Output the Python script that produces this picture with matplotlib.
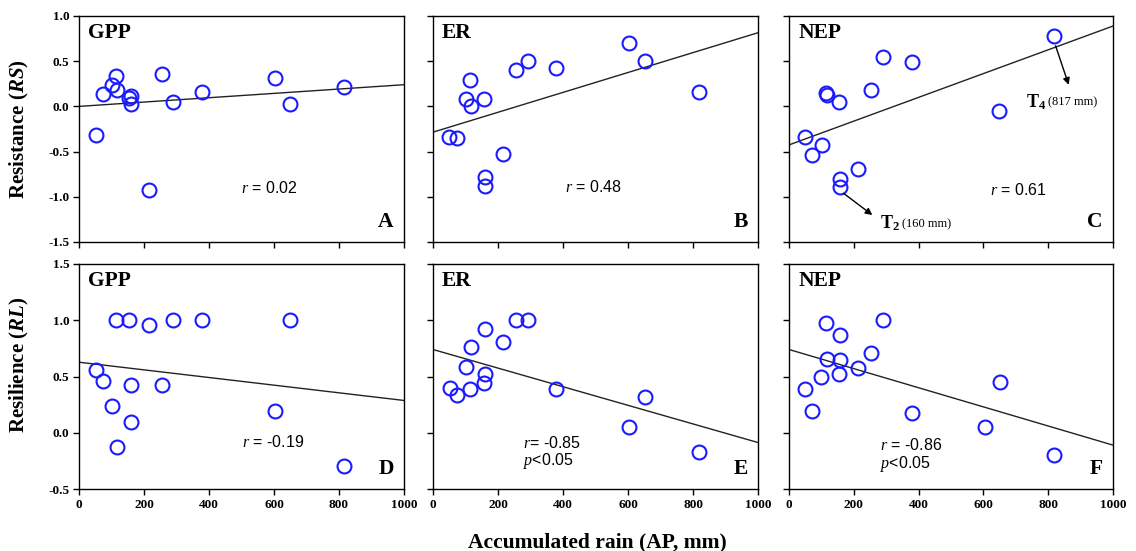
import matplotlib
matplotlib.use("Agg")
import matplotlib.pyplot as plt

plt.rcParams['axes.unicode_minus'] = False
plt.rcParams['mathtext.fontset'] = 'custom'
plt.rcParams['mathtext.it'] = 'Liberation Serif:italic'
plt.rcParams['mathtext.rm'] = 'Liberation Sans'
plt.rcParams['mathtext.bf'] = 'Liberation Serif:bold'
plt.rcParams['mathtext.bfit'] = 'Liberation Serif:italic:bold'

# ---------------- data ----------------
fluxes = ["GPP", "ER", "NEP"]
panel_letters = [["A", "B", "C"], ["D", "E", "F"]]

# Resistance (RS)
gpp_rs_x = [51, 73, 100, 114, 118, 155, 159, 160, 215, 255, 290, 378, 604, 649, 815]
gpp_rs_y = [-0.315, 0.137, 0.24, 0.34, 0.18, 0.09, 0.11, 0.026, -0.926, 0.36, 0.048, 0.16, 0.31, 0.026, 0.21]
er_rs_x = [49, 75, 103, 113, 118, 156, 161, 161, 214, 255, 292, 379, 604, 652, 817]
er_rs_y = [-0.344, -0.352, 0.085, 0.296, 0.0, 0.081, -0.785, -0.878, -0.522, 0.407, 0.507, 0.426, 0.70, 0.507, 0.159]
nep_rs_x = [48, 72, 102, 113, 116, 155, 156, 156, 213, 254, 291, 380, 648, 817]
nep_rs_y = [-0.344, -0.537, -0.43, 0.148, 0.13, 0.052, -0.807, -0.889, -0.689, 0.178, 0.544, 0.489, -0.048, 0.778]

# Resilience (RL)
gpp_rl_x = [51, 73, 102, 114, 116, 155, 159, 159, 214, 255, 290, 378, 604, 649, 815]
gpp_rl_y = [0.56, 0.46, 0.236, 1.0, -0.128, 1.0, 0.424, 0.10, 0.955, 0.424, 1.0, 1.0, 0.197, 1.0, -0.295]
er_rl_x = [51, 75, 103, 115, 118, 157, 161, 161, 214, 256, 292, 379, 604, 652, 817]
er_rl_y = [0.40, 0.34, 0.585, 0.385, 0.758, 0.442, 0.525, 0.919, 0.803, 1.0, 1.0, 0.39, 0.048, 0.32, -0.167]
nep_rl_x = [50, 72, 100, 113, 117, 154, 156, 158, 213, 254, 291, 380, 606, 650, 817]
nep_rl_y = [0.388, 0.194, 0.50, 0.973, 0.66, 0.52, 0.872, 0.65, 0.573, 0.707, 1.0, 0.176, 0.048, 0.448, -0.197]

# regression lines (intercept, slope)
rs_intercepts = [0.0, -0.285, -0.426]
rs_slopes = [0.00024, 0.0011, 0.001315]
rl_intercepts = [0.627, 0.74, 0.74]
rl_slopes = [-0.00034, -0.000827, -0.00085]

rs_r_text = ["0.02", "0.48", "0.61"]
rl_r_text = ["-0.19", "-0.85", "-0.86"]
rl_p_text = ["", "<0.05", "<0.05"]

x_ticks = [0, 200, 400, 600, 800, 1000]
rs_ticks = [-1.5, -1.0, -0.5, 0.0, 0.5, 1.0]
rl_ticks = [-0.5, 0.0, 0.5, 1.0, 1.5]

# ---------------- figure ----------------
W, H = 1136, 551
fig = plt.figure(figsize=(W / 100, H / 100), dpi=100)

col_px = [(79, 404), (433, 758), (789, 1113)]
row_px = [(16, 242), (264, 489)]

serif = "Liberation Serif"
sans = "Liberation Sans"

rows = [
    dict(xs=[gpp_rs_x, er_rs_x, nep_rs_x], ys=[gpp_rs_y, er_rs_y, nep_rs_y],
         b=rs_intercepts, m=rs_slopes, ylim=(-1.5, 1.0), yt=rs_ticks,
         ylabel=r"Resistance ($\mathbfit{RS}$)", rt=rs_r_text, pt=["", "", ""], ly=0.5),
    dict(xs=[gpp_rl_x, er_rl_x, nep_rl_x], ys=[gpp_rl_y, er_rl_y, nep_rl_y],
         b=rl_intercepts, m=rl_slopes, ylim=(-0.5, 1.5), yt=rl_ticks,
         ylabel=r"Resilience ($\mathbfit{RL}$)", rt=rl_r_text, pt=rl_p_text, ly=0.55),
]

# positions of r text in data coords
r_pos = [[(500, -0.90), (406, -0.89), (620, -0.93)],
         [(502, -0.08), (277, -0.09), (281, -0.11)]]

axes = {}
for ri, row in enumerate(rows):
    for ci in range(3):
        l, r = col_px[ci]
        t, b = row_px[ri]
        ax = fig.add_axes([l / W, (H - b) / H, (r - l) / W, (b - t) / H])
        axes[(ri, ci)] = ax
        ax.plot(row["xs"][ci], row["ys"][ci], linestyle="none", marker="o",
                markersize=10, markerfacecolor="none", markeredgecolor="#1a1aff",
                markeredgewidth=1.5, zorder=3)
        x0, x1 = 0, 1000
        ax.plot([x0, x1], [row["b"][ci] + row["m"][ci] * x0, row["b"][ci] + row["m"][ci] * x1],
                color="#222222", lw=1.0, zorder=2)
        ax.set_xlim(0, 1000)
        ax.set_ylim(*row["ylim"])
        ax.set_xticks(x_ticks)
        ax.set_yticks(row["yt"])
        ax.tick_params(direction="out", length=4, width=1, pad=3)
        for s in ax.spines.values():
            s.set_linewidth(1.0)
        if ri == 0:
            ax.set_xticklabels([])
        else:
            ax.set_xticklabels([str(v) for v in x_ticks], fontfamily=serif,
                               fontweight="bold", fontsize=9.5)
        if ci == 0:
            ax.set_yticklabels([f"{v:.1f}" for v in row["yt"]], fontfamily=serif,
                               fontweight="bold", fontsize=9.5)
            ax.set_ylabel(row["ylabel"], fontfamily=serif, fontweight="bold", fontsize=15)
            ax.yaxis.set_label_coords(-0.148, row["ly"])
        else:
            ax.set_yticklabels([])
        ax.text(0.028, 0.925, fluxes[ci], transform=ax.transAxes, fontfamily=serif,
                fontweight="bold", fontsize=15.5, ha="left", va="center")
        ax.text(0.968, 0.088, panel_letters[ri][ci], transform=ax.transAxes,
                fontfamily=serif, fontweight="bold", fontsize=15.5, ha="right", va="center")
        rx, ry = r_pos[ri][ci]
        sep = " = " if not (ri == 1 and ci == 1) else "= "
        ax.text(rx, ry, "$r$" + sep + row["rt"][ci], fontfamily=sans, fontsize=11.5,
                ha="left", va="center")
        if row["pt"][ci]:
            dy = 0.165
            ax.text(rx, ry - dy, "$p$" + row["pt"][ci], fontfamily=sans, fontsize=11.5,
                    ha="left", va="center")

# annotations in panel C
axc = axes[(0, 2)]
axc.annotate("", xy=(866, 0.21), xytext=(820, 0.70),
             arrowprops=dict(arrowstyle="-|>", color="black", lw=1.0, mutation_scale=10))
t4 = axc.text(733, 0.05, r"$\mathbf{T}_{\mathbf{4}}$", fontsize=13, ha="left", va="center")
axc.annotate("(817 mm)", xy=(1, 0.15), xycoords=t4, xytext=(1, 0), textcoords="offset points",
             fontfamily=serif, fontsize=9, ha="left", va="bottom")
axc.annotate("", xy=(264, -1.22), xytext=(162, -0.944),
             arrowprops=dict(arrowstyle="-|>", color="black", lw=1.0, mutation_scale=10))
t2 = axc.text(282, -1.29, r"$\mathbf{T}_{\mathbf{2}}$", fontsize=13, ha="left", va="center")
axc.annotate("(160 mm)", xy=(1, 0.15), xycoords=t2, xytext=(1, 0), textcoords="offset points",
             fontfamily=serif, fontsize=9, ha="left", va="bottom")

fig.text(597 / W, (H - 542) / H, "Accumulated rain (AP, mm)", fontfamily=serif,
         fontweight="bold", fontsize=15.5, ha="center", va="center")

fig.savefig("out.png", dpi=100)
